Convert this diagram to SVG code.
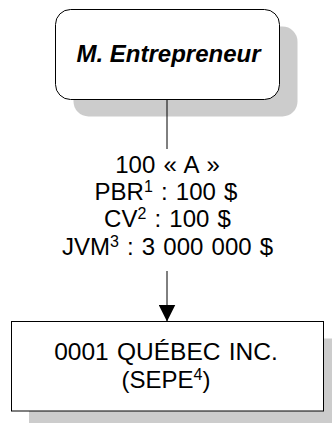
<svg xmlns="http://www.w3.org/2000/svg" width="332" height="423" viewBox="0 0 332 423">
  <style>
    .shadow { fill: #cccccc; stroke: none; }
    .box { fill: #ffffff; stroke: #000000; stroke-width: 1; }
    .txt { font-family: "Liberation Sans", Arial, sans-serif; font-size: 24px; fill: #000000; text-anchor: middle; word-spacing: 1.5px; }
    .title { font-weight: bold; font-style: italic; word-spacing: 0; }
    .big { font-size: 24.5px; }
    .sup { font-size: 16px; }
    .edge { stroke: #000000; stroke-width: 1; fill: none; }
  </style>
  <defs>
    <marker id="arrow" viewBox="0 0 17 17" refX="17" refY="8.5" markerWidth="17" markerHeight="17" markerUnits="userSpaceOnUse" orient="auto">
      <path d="M0,0 L17,8.5 L0,17 Z" fill="#000000"/>
    </marker>
  </defs>

  <g id="node-entrepreneur">
    <rect class="shadow" x="73.5" y="26.5" width="224" height="90" rx="15" ry="15"/>
    <rect class="box" x="55.5" y="9.5" width="224" height="90" rx="15" ry="15"/>
    <text class="txt title" x="168.5" y="61.5">M. Entrepreneur</text>
  </g>

  <g id="connectors">
    <line class="edge" x1="167" y1="99.5" x2="167" y2="149"/>
    <line class="edge" x1="167" y1="271" x2="167" y2="321.5" marker-end="url(#arrow)"/>
  </g>

  <g id="edge-label">
    <text class="txt" x="167.5" y="172.7">100 « A »</text>
    <text class="txt" x="166" y="200">PBR<tspan class="sup" dy="-8">1</tspan><tspan dy="8"> : 100 $</tspan></text>
    <text class="txt" x="167.5" y="227.3">CV<tspan class="sup" dy="-8">2</tspan><tspan dy="8"> : 100 $</tspan></text>
    <text class="txt" x="167.5" y="254.6">JVM<tspan class="sup" dy="-8">3</tspan><tspan dy="8"> : 3 000 000 $</tspan></text>
  </g>

  <g id="node-quebec">
    <rect class="shadow" x="29" y="338.5" width="303" height="84.5"/>
    <rect class="box" x="11.5" y="321.5" width="312" height="89.5"/>
    <text class="txt big" x="166" y="360">0001 QUÉBEC INC.</text>
    <text class="txt" x="166" y="387.5">(SEPE<tspan class="sup" dy="-8">4</tspan><tspan dy="8">)</tspan></text>
  </g>
</svg>
